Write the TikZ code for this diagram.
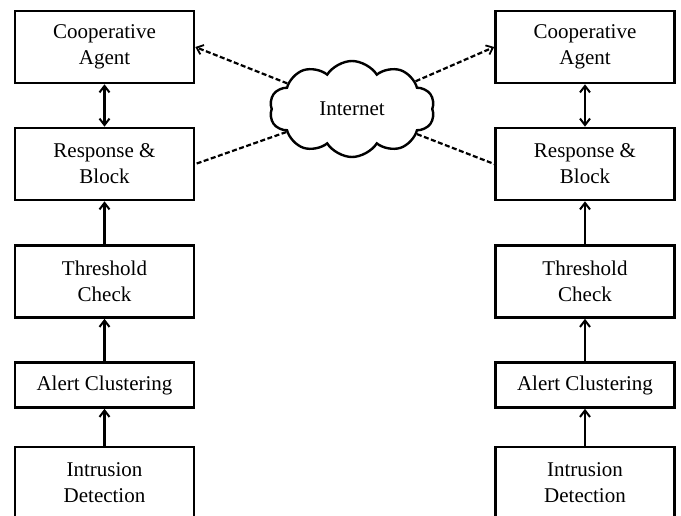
\documentclass[tikz,border=0pt]{standalone}
\usepackage{fontspec}
\setmainfont{Liberation Serif}
\usetikzlibrary{arrows.meta,shapes.symbols}

\tikzset{
  blockbox/.style={draw, line width=2.6pt, minimum width=179pt, inner sep=0pt,
    align=center, font=\fontsize{21}{26}\selectfont},
  tallbox/.style={blockbox, minimum height=72pt},
  shortbox/.style={blockbox, minimum height=45pt},
  barb/.tip={Straight Barb[length=6.5pt,width=10pt,line width=2pt]},
  flow/.style={line width=2.4pt, -barb},
  bothflow/.style={line width=2.4pt, barb-barb},
  netlink/.style={line width=2.2pt, dash pattern=on 5pt off 2.5pt},
  netarrow/.style={netlink, -{Straight Barb[length=6pt,width=10pt,line width=1.8pt]}},
}

\begin{document}
\begin{tikzpicture}[x=1pt,y=1pt]
  \useasboundingbox (0,0) rectangle (681,-516);
  \fill[white] (0,0) rectangle (681,-516);
  \clip (0,0) rectangle (681,-516);

  % left host
  \node[tallbox]  (caL) at (104.5,-47)  {Cooperative\\Agent};
  \node[tallbox]  (rbL) at (104.5,-164) {Response \&\\Block};
  \node[tallbox]  (tcL) at (104.5,-281.5) {Threshold\\Check};
  \node[shortbox] (acL) at (104.5,-385) {Alert Clustering};
  \node[tallbox]  (idL) at (104.5,-483) {Intrusion\\Detection};

  % right host
  \node[tallbox]  (caR) at (585,-47)  {Cooperative\\Agent};
  \node[tallbox]  (rbR) at (585,-164) {Response \&\\Block};
  \node[tallbox]  (tcR) at (585,-281.5) {Threshold\\Check};
  \node[shortbox] (acR) at (585,-385) {Alert Clustering};
  \node[tallbox]  (idR) at (585,-483) {Intrusion\\Detection};

  % shared network
  \node[cloud, draw, line width=2.4pt, cloud puffs=10, cloud puff arc=115,
        aspect=1.7, minimum width=165pt, minimum height=96pt, inner sep=0pt,
        font=\fontsize{21}{26}\selectfont] (net) at (352,-109) {Internet};

  % processing chain on each host
  \foreach \s in {L,R} {
    \draw[flow] (id\s.north) -- (ac\s.south);
    \draw[flow] (ac\s.north) -- (tc\s.south);
    \draw[flow] (tc\s.north) -- (rb\s.south);
    \draw[bothflow] (ca\s.south) -- (rb\s.north);
  }

  % links through the network
  \draw[netarrow] (net) -- (caL.east);
  \draw[netarrow] (net) -- (caR.west);
  \draw[netlink] (net) -- (rbL.east);
  \draw[netlink] (net) -- (rbR.west);
\end{tikzpicture}
\end{document}
